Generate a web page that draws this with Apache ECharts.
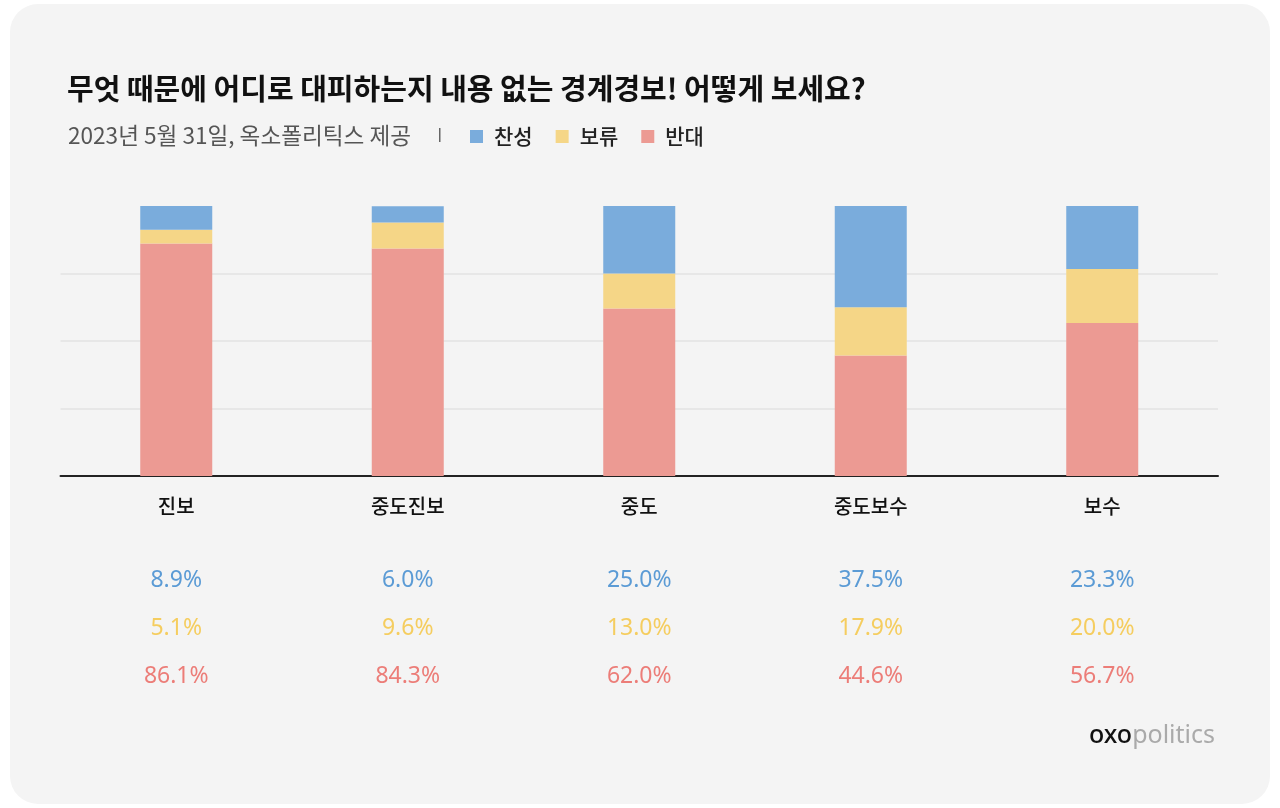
<!DOCTYPE html>
<html><head><meta charset="utf-8">
<script src="https://cdn.jsdelivr.net/npm/echarts@6/dist/echarts.min.js"></script>
<style>
html,body{margin:0;padding:0;background:#ffffff;width:1280px;height:808px;overflow:hidden}
#card{position:absolute;left:10px;top:4px;width:1260px;height:800px;border-radius:28px;background:#f4f4f4}
#chart{position:absolute;left:0;top:0;width:1280px;height:808px}
</style></head>
<body><div id="card"></div><div id="chart"></div>
<script>
const categories = ['진보', '중도진보', '중도', '중도보수', '보수'];
const approve = [8.9, 6.0, 25.0, 37.5, 23.3];   // 찬성
const hold = [5.1, 9.6, 13.0, 17.9, 20.0];      // 보류
const oppose = [86.1, 84.3, 62.0, 44.6, 56.7];  // 반대
const seriesNames = ['찬성', '보류', '반대'];

const barColors = {찬성: '#7aacdc', 보류: '#f5d687', 반대: '#ec9a93'};
const textColors = {찬성: '#5b9bd5', 보류: '#f5cd5f', 반대: '#ec7d78'};

const chart = echarts.init(document.getElementById('chart'), null, {renderer: 'canvas'});
const pctFont = '"Noto Sans", sans-serif';
const option = {
  backgroundColor: 'transparent',
  animation: false,
  title: [
    {text: '무엇 때문에 어디로 대피하는지 내용 없는 경계경보! 어떻게 보세요?', left: 62, top: 69,
     textStyle: {fontFamily: '"Noto Sans CJK KR"', fontSize: 29, fontWeight: 'bold', color: '#111'}},
    {text: '2023년 5월 31일, 옥소폴리틱스 제공', left: 63, top: 119,
     textStyle: {fontFamily: '"Noto Sans CJK KR"', fontSize: 22.6, fontWeight: 'normal', color: '#555'}}
  ],
  graphic: [
    {type: 'rect', left: 439, top: 128, shape: {width: 1.5, height: 14}, style: {fill: '#666'}},
    {type: 'text', left: 1089, top: 723, style: {
      rich: {
        a: {fontFamily: '"Noto Sans", sans-serif', fontSize: 25, fill: '#111', fontWeight: 500},
        b: {fontFamily: '"Noto Sans", sans-serif', fontSize: 25, fill: '#aaaaaa', fontWeight: 400}
      },
      text: '{a|oxo}{b|politics}'
    }}
  ],
  legend: {
    data: seriesNames, left: 465, top: 121, icon: 'rect', itemWidth: 13, itemHeight: 13, itemGap: 23,
    textStyle: {fontFamily: '"Noto Sans CJK KR"', fontSize: 21, fontWeight: 500, color: '#222', padding: [0, 0, 0, 6]}
  },
  grid: {left: 60.5, width: 1157.5, top: 206, height: 270, containLabel: false},
  xAxis: {
    type: 'category', data: categories,
    axisLine: {lineStyle: {color: '#222', width: 2}},
    axisTick: {show: false},
    axisLabel: {
      margin: 10, interval: 0,
      formatter: function (v, i) {
        return '{n|' + v + '}\n{s| }\n{a|' + approve[i].toFixed(1) + '%}\n{h|' + hold[i].toFixed(1) + '%}\n{o|' + oppose[i].toFixed(1) + '%}';
      },
      rich: {
        n: {fontFamily: '"Noto Sans CJK KR"', fontSize: 20, fontWeight: 500, color: '#111', lineHeight: 40},
        s: {fontSize: 10, lineHeight: 30},
        a: {fontFamily: pctFont, fontSize: 23, color: textColors['찬성'], lineHeight: 48},
        h: {fontFamily: pctFont, fontSize: 23, color: textColors['보류'], lineHeight: 48},
        o: {fontFamily: pctFont, fontSize: 23, color: textColors['반대'], lineHeight: 48}
      }
    }
  },
  yAxis: {
    type: 'value', min: 0, max: 100, interval: 25,
    axisLabel: {show: false}, axisLine: {show: false}, axisTick: {show: false},
    splitLine: {lineStyle: {color: ['transparent', '#e3e3e3', '#e3e3e3', '#e3e3e3', 'transparent'], width: 1.5}}
  },
  series: [
    {name: '반대', type: 'bar', stack: 't', data: oppose, barWidth: 72, itemStyle: {color: barColors['반대']}},
    {name: '보류', type: 'bar', stack: 't', data: hold, barWidth: 72, itemStyle: {color: barColors['보류']}},
    {name: '찬성', type: 'bar', stack: 't', data: approve, barWidth: 72, itemStyle: {color: barColors['찬성']}}
  ]
};
chart.setOption(option);
</script></body></html>
